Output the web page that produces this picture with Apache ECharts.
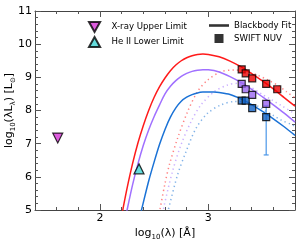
<!DOCTYPE html>
<html><head><meta charset="utf-8">
<script src="https://cdn.jsdelivr.net/npm/echarts@6/dist/echarts.min.js"></script>
<style>html,body{margin:0;padding:0;background:#fff}#c{width:299px;height:246px}</style>
</head><body><div id="c"></div>
<script>
const FONT = 'DejaVu Sans';
const xMajorTicks = [2, 3];
const yMajorTicks = [5, 6, 7, 8, 9, 10, 11];

const xrayUpper = [[1.61, 7.17]];
const heiiLower = [[2.36, 6.24]];

const redFit = [[2.205,4.9],[2.213,5.05],[2.25,5.66],[2.30,6.39],[2.35,7.02],[2.40,7.55],[2.45,8.01],[2.50,8.40],[2.55,8.72],[2.60,8.98],[2.65,9.20],[2.70,9.37],[2.75,9.50],[2.80,9.59],[2.85,9.65],[2.90,9.69],[2.95,9.70],[3.00,9.69],[3.10,9.62],[3.20,9.49],[3.30,9.32],[3.40,9.11],[3.50,8.89],[3.60,8.65],[3.70,8.39],[3.80,8.13]];
const purpleFit = [[2.245,4.9],[2.25,5.00],[2.30,5.75],[2.35,6.39],[2.40,6.95],[2.45,7.42],[2.50,7.82],[2.55,8.17],[2.60,8.50],[2.65,8.73],[2.70,8.90],[2.75,9.03],[2.80,9.12],[2.85,9.18],[2.90,9.215],[2.95,9.23],[3.00,9.225],[3.10,9.16],[3.20,9.02],[3.30,8.845],[3.40,8.64],[3.50,8.41],[3.60,8.17],[3.70,7.92],[3.80,7.65]];
const blueFit = [[2.375,4.9],[2.383,5.00],[2.45,5.88],[2.50,6.45],[2.55,6.98],[2.60,7.43],[2.65,7.80],[2.70,8.08],[2.75,8.28],[2.80,8.40],[2.85,8.48],[2.90,8.53],[2.95,8.555],[3.00,8.56],[3.05,8.555],[3.10,8.54],[3.20,8.48],[3.30,8.35],[3.40,8.18],[3.50,7.97],[3.60,7.75],[3.70,7.51],[3.80,7.25]];

const redAlt = [[2.545,4.9],[2.552,5.0],[2.60,5.8],[2.64,6.36],[2.716,7.16],[2.808,7.96],[2.90,8.57],[2.994,8.92],[3.118,9.17],[3.24,9.22],[3.35,9.18],[3.45,9.07],[3.55,8.92],[3.65,8.74],[3.72,8.57],[3.80,8.38]];
const purpleAlt = [[2.578,4.9],[2.585,5.0],[2.593,5.15],[2.669,6.16],[2.747,6.96],[2.84,7.66],[2.932,8.17],[3.056,8.57],[3.179,8.77],[3.27,8.82],[3.38,8.72],[3.49,8.50],[3.58,8.33],[3.673,8.15],[3.78,7.94],[3.80,7.90]];
const blueAlt = [[2.625,4.9],[2.63,5.0],[2.716,6.06],[2.794,6.76],[2.886,7.46],[2.994,7.92],[3.118,8.17],[3.241,8.27],[3.35,8.24],[3.45,8.14],[3.52,8.0],[3.60,7.85],[3.673,7.71],[3.78,7.56],[3.80,7.52]];

const redUV = [[3.308,9.24],[3.345,9.12],[3.405,8.97],[3.534,8.80],[3.636,8.64]];
const purpleUV = [[3.308,8.80],[3.345,8.64],[3.405,8.47],[3.534,8.20]];
const blueUV = [[3.308,8.30],[3.345,8.30],[3.405,8.07],[3.534,7.80]];
const blueErr = [[3.534,6.66],[3.534,8.15]];

const C = { red:'#ff1a1a', purple:'#a070ff', blue:'#1a72d6' };
const tickColor = '#555';

function xAx(pos, major, labels) {
  const a = { type:'value', min:1.4, max:3.8, position:pos, splitLine:{show:false},
    axisLine:{show:!major, onZero:false, lineStyle:{color:'#444', width:1}},
    axisTick:{inside:true, length: major?6:3, lineStyle:{color:tickColor}},
    axisLabel:{show:false} };
  if (major) { a.axisTick.customValues = xMajorTicks; }
  else { a.interval = 0.2; }
  if (labels) {
    a.axisLabel = {show:true, customValues:xMajorTicks, margin:3, color:'#000', fontSize:11, fontFamily:FONT};
    a.name = '{n|log}{s|10}{n|(λ) [Å]}';
    a.nameLocation = 'middle'; a.nameGap = 16; a.nameMoveOverlap = false;
    a.nameTextStyle = {rich:{n:{fontSize:11,fontFamily:FONT,color:'#000'}, s:{fontSize:7,fontFamily:FONT,color:'#000',verticalAlign:'bottom',padding:[8,0,0,0]}}};
  }
  return a;
}
function yAx(pos, labels) {
  const a = { type:'value', min:5, max:11, interval:1, position:pos, splitLine:{show:false},
    axisLine:{show:true, onZero:false, lineStyle:{color:'#444', width:1}},
    axisTick:{inside:true, length:6, lineStyle:{color:tickColor}},
    minorTick:{show:true, splitNumber:5, length:3, lineStyle:{color:tickColor}},
    axisLabel:{show:labels, margin:3, color:'#000', fontSize:11, fontFamily:FONT} };
  if (labels) {
    a.name = '{n|log}{s|10}{n|(λL}{s|λ}{n|) [L}{s|⊙}{n|]}';
    a.nameLocation = 'middle'; a.nameGap = 18; a.nameMoveOverlap = false;
    a.nameTextStyle = {rich:{n:{fontSize:11,fontFamily:FONT,color:'#000'}, s:{fontSize:7,fontFamily:FONT,color:'#000',padding:[8,0,0,0]}}};
  }
  return a;
}

const fitLine = (name, data, color) => ({ name, type:'line', data, xAxisIndex:0, yAxisIndex:0, symbol:'none', smooth:0.3,
  lineStyle:{color, width:1.5}, silent:true, z:2 });
const altLine = (name, data, color) => ({ name, type:'line', data, xAxisIndex:0, yAxisIndex:0, symbol:'none', smooth:0.3,
  lineStyle:{color, width:1.5, type:[1.3,3.2], opacity:0.55}, silent:true, z:1 });
const uvSeries = (name, data, color) => ({ name, type:'scatter', data, xAxisIndex:0, yAxisIndex:0, symbol:'rect', symbolSize:7,
  itemStyle:{color, borderColor:'#000', borderWidth:1.2}, z:5 });

const chart = echarts.init(document.getElementById('c'), null, {renderer:'canvas'});
chart.setOption({
  animation:false,
  backgroundColor:'#fff',
  grid:{left:35, right:4, top:11, bottom:36, containLabel:false, outerBoundsMode:'none'},
  xAxis:[ xAx('bottom', false, false), xAx('bottom', true, true), xAx('top', false, false), xAx('top', true, false) ],
  yAxis:[ yAx('left', true), yAx('right', false) ],
  legend:[
    { data:[{name:'X-ray Upper Limit', icon:'path://M0,0L10,0L5,9Z'}, {name:'He II Lower Limit', icon:'path://M5,0L10,9L0,9Z'}],
      orient:'vertical', left:83, top:16, itemWidth:24, itemHeight:10, itemGap:3, symbolKeepAspect:true,
      textStyle:{fontSize:8.6, fontFamily:FONT, color:'#000'}, selectedMode:false },
    { data:[{name:'Blackbody Fit', icon:'path://M0,0H20V2.6H0Z'}, {name:'SWIFT NUV', icon:'path://M0,0H10V10H0Z'}],
      orient:'vertical', left:204, top:16, itemWidth:20, itemHeight:9, itemGap:4, symbolKeepAspect:true,
      textStyle:{fontSize:8.6, fontFamily:FONT, color:'#000'}, selectedMode:false }
  ],
  series:[
    altLine('redAlt', redAlt, C.red), altLine('purpleAlt', purpleAlt, C.purple), altLine('blueAlt', blueAlt, C.blue),
    fitLine('redFit', redFit, C.red), fitLine('purpleFit', purpleFit, C.purple), fitLine('blueFit', blueFit, C.blue),
    { name:'blueErr', type:'line', data:blueErr, symbol:'rect', symbolSize:[5,1.2], lineStyle:{color:'#4a96e8', width:1.2},
      itemStyle:{color:'#4a96e8'}, z:3, silent:true },
    uvSeries('blueUV', blueUV, '#1262c4'), uvSeries('purpleUV', purpleUV, '#9b66f0'), uvSeries('redUV', redUV, '#ee0000'),
    { name:'X-ray Upper Limit', type:'scatter', data:xrayUpper, symbol:'triangle', symbolRotate:180, symbolSize:10,
      itemStyle:{color:'#d633d6', borderColor:'#000', borderWidth:1.2}, z:6 },
    { name:'He II Lower Limit', type:'scatter', data:heiiLower, symbol:'triangle', symbolSize:10,
      itemStyle:{color:'#40d6d6', borderColor:'#000', borderWidth:1.2}, z:6 },
    { name:'Blackbody Fit', type:'scatter', data:[], itemStyle:{color:'#000'} },
    { name:'SWIFT NUV', type:'scatter', data:[], itemStyle:{color:'#000'} }
  ]
});
</script>
</body></html>
